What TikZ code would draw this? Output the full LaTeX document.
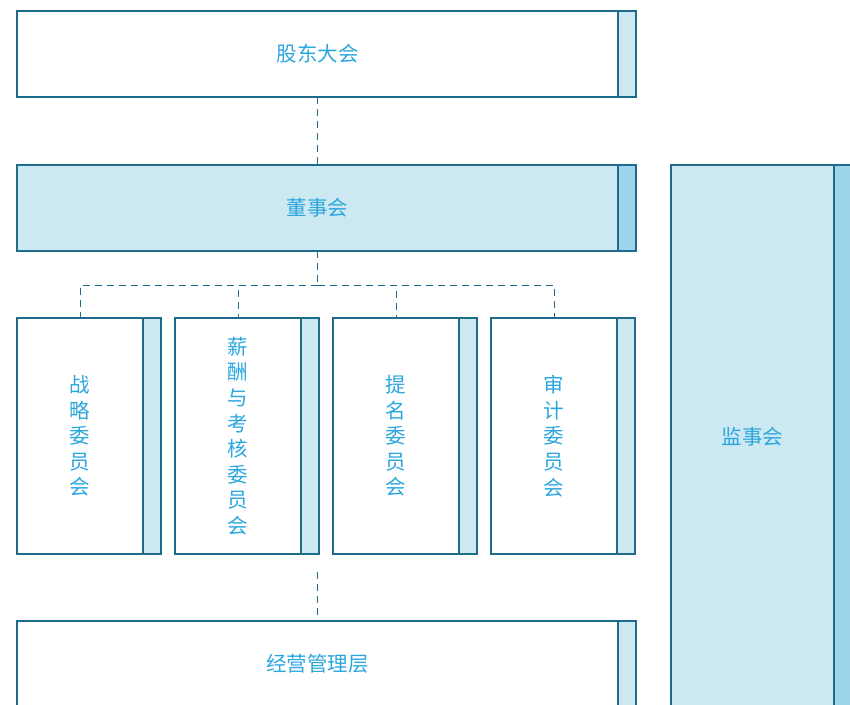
\documentclass[tikz,border=0pt]{standalone}
\usepackage{fontspec}
\newfontfamily\cjk{Noto Sans CJK SC}
\usepackage{tikz}
\usetikzlibrary{%
  positioning,% wg. " of "
  calc%
}
\definecolor{boxline}{HTML}{1F6B8C}
\definecolor{lightfill}{HTML}{CCE8F1}
\definecolor{darkfill}{HTML}{9DD5EA}
\definecolor{txt}{HTML}{2BA6DE}

\begin{document}
\begin{tikzpicture}[x=1pt,y=-1pt,line width=1.1pt,
    box/.style={draw=boxline,inner sep=0pt,outer sep=0pt,minimum width=601pt,minimum height=86pt,
      text=txt,font=\cjk\fontsize{20.5}{25.6}\selectfont,align=center},
    cbox/.style={box,minimum width=126pt,minimum height=236pt},
    strip/.style={draw=boxline,fill=lightfill,inner sep=0pt,outer sep=0pt,minimum width=18pt},
    link/.style={draw=boxline,line width=1pt,dash pattern=on 7pt off 5pt}]
    \useasboundingbox (0,0) rectangle (850,704);
    \clip (0,0) rectangle (850,704);
    %top
    \node[box, anchor=north west] (gd) at (17,11) {股东大会};
    \node[strip, minimum height=86pt] (gd_s) [right=0pt of gd] {};
    \node[box, fill=lightfill] (dsh) [below=68pt of gd] {董事会};
    \node[strip, fill=darkfill, minimum height=86pt] (dsh_s) [right=0pt of dsh] {};
    %supervisors
    \node[box, fill=lightfill, minimum width=163pt, minimum height=544pt] (jsh) [right=35pt of dsh_s.north east, anchor=north west] {监事会};
    \node[strip, fill=darkfill, minimum height=544pt] (jsh_s) [right=0pt of jsh] {};
    %committees
    \node[cbox] (zl) [below right=67pt and 0pt of dsh.south west] {战\\略\\委\\员\\会};
    \node[strip, minimum height=236pt] (zl_s) [right=0pt of zl] {};
    \node[cbox] (xc) [right=14pt of zl_s] {薪\\酬\\与\\考\\核\\委\\员\\会};
    \node[strip, minimum height=236pt] (xc_s) [right=0pt of xc] {};
    \node[cbox] (tm) [right=14pt of xc_s] {提\\名\\委\\员\\会};
    \node[strip, minimum height=236pt] (tm_s) [right=0pt of tm] {};
    \node[cbox] (sj) [right=14pt of tm_s] {审\\计\\委\\员\\会};
    \node[strip, minimum height=236pt] (sj_s) [right=0pt of sj] {};
    %management
    \node[box] (jy) [below right=67pt and 0pt of zl.south west] {经营管理层};
    \node[strip, minimum height=86pt] (jy_s) [right=0pt of jy] {};

    \coordinate[below=34pt of dsh.south] (fork);
    \coordinate (jy_in) at ($(zl.south -| jy.north)+(0,18)$);
    \draw[link] (gd.south) -- (dsh.north);
    \draw[link] (dsh.south) -- (fork);
    \foreach \c in {zl,xc,tm,sj}
      \draw[link] (fork) -| (\c.north);
    \draw[link] (jy_in) -- (jy.north);
\end{tikzpicture}
\end{document}
